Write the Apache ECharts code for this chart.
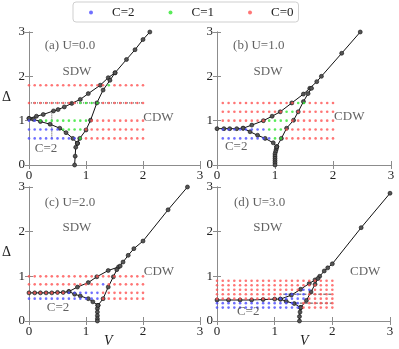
<!DOCTYPE html>
<html>
<head>
<meta charset="utf-8">
<script src="https://cdn.jsdelivr.net/npm/echarts@6/dist/echarts.min.js"></script>
<style>
html,body{margin:0;padding:0;background:#fff}
#main{width:399px;height:349px}
</style>
</head>
<body>
<div id="main"></div>
<script>
// V grid of the Chern number scan (same for a, c, d; b starts at 0.1)
var vGrid = [0,0.1,0.2,0.3,0.4,0.5,0.6,0.7,0.8,0.9,1.0,1.1,1.2,1.3,1.4,1.5,1.6,1.7,1.8,1.9,2.0];
var vGridB = [0.1,0.2,0.3,0.4,0.5,0.6,0.7,0.8,0.9,1.0,1.1,1.2,1.3,1.4,1.5,1.6,1.7,1.8,1.9,2.0];
var ticks = [0, 1, 2, 3];

// (a) U=0.0
var deltasA = [1.8, 1.4, 1.0, 0.8, 0.6];
var chernA = [
  [0,0,0,0,0,0,0,0,0,0,0,0,0,0,1,0,0,0,0,0,0],
  [0,0,0,0,0,0,0,0,0,1,1,1,1,0,0,0,0,0,0,0,0],
  [2,2,1,1,1,1,1,1,1,1,1,0,0,0,0,0,0,0,0,0,0],
  [2,2,2,2,2,2,1,1,1,1,0,0,0,0,0,0,0,0,0,0,0],
  [2,2,2,2,2,2,2,2,2,1,0,0,0,0,0,0,0,0,0,0,0]
];
var upperA = [[0,1.05],[0.13,1.1],[0.25,1.14],[0.43,1.22],[0.51,1.25],[0.62,1.31],[0.75,1.39],[0.9,1.48],[1.04,1.61],[1.25,1.8],[1.39,1.97],[1.51,2.08],[1.71,2.38],[1.86,2.6],[2.0,2.83],[2.12,3.0]];
var lowerA = [[0,1.05],[0.08,1.03],[0.2,0.98],[0.37,0.92],[0.54,0.83],[0.65,0.73],[0.77,0.6],[0.85,0.49]];
var stemA = [[0.85,0.49],[0.82,0.4],[0.81,0.2],[0.8,0]];
var rightA = [[0.85,0.49],[0.89,0.6],[1.0,0.79],[1.08,1.01],[1.19,1.4],[1.3,1.69],[1.42,1.91],[1.51,2.08]];

// (b) U=1.0
var deltasB = [1.4, 1.2, 1.0, 0.8, 0.6];
var chernB = [
  [0,0,0,0,0,0,0,0,0,0,0,0,0,1,1,0,0,0,0,0],
  [0,0,0,0,0,0,0,0,0,0,0,1,1,0,0,0,0,0,0,0],
  [0,0,0,0,0,0,0,0,1,1,1,1,0,0,0,0,0,0,0,0],
  [2,2,2,2,2,2,2,2,1,1,1,0,0,0,0,0,0,0,0,0],
  [2,2,2,2,2,2,2,2,2,1,1,0,0,0,0,0,0,0,0,0]
];
var upperB = [[0,0.82],[0.12,0.82],[0.22,0.82],[0.34,0.82],[0.45,0.83],[0.6,0.9],[0.8,1.0],[0.95,1.1],[1.09,1.2],[1.29,1.4],[1.49,1.6],[1.6,1.73],[1.72,1.88],[1.8,2.0],[2.15,2.52],[2.47,3.0]];
var lowerB = [[0.45,0.83],[0.57,0.75],[0.7,0.67],[0.83,0.6],[0.97,0.5],[1.03,0.41]];
var stemB = [[1.03,0.41],[1.02,0.35],[1.01,0.3],[1.0,0.25],[1.0,0.2],[1.0,0.15],[1.0,0.1],[1.0,0.05],[1.0,0]];
var rightB = [[1.03,0.41],[1.11,0.6],[1.2,0.83],[1.32,1.01],[1.4,1.2],[1.49,1.43],[1.57,1.61],[1.63,1.73]];

// (c) U=2.0
var deltasC = [1.0, 0.82, 0.63, 0.5];
var chernC = [
  [0,0,0,0,0,0,0,0,0,0,0,0,0,0,0,0,0,0,0,0,0],
  [0,0,0,0,0,0,0,0,0,0,0,0,0,2,0,0,0,0,0,0,0],
  [0,0,0,0,0,0,0,2,2,2,2,2,2,0,0,0,0,0,0,0,0],
  [2,2,2,2,2,2,2,2,2,2,2,2,2,0,0,0,0,0,0,0,0]
];
var upperC = [[0,0.63],[0.1,0.63],[0.2,0.63],[0.3,0.63],[0.4,0.63],[0.5,0.64],[0.6,0.64],[0.7,0.66],[0.85,0.76],[1.04,0.86],[1.19,0.99],[1.39,1.13],[1.57,1.21],[1.65,1.32],[1.74,1.47],[1.84,1.62],[2.0,1.79],[2.44,2.49],[2.78,3.0]];
var lowerC = [[0.7,0.66],[0.8,0.6],[0.9,0.56],[1.04,0.5],[1.12,0.43],[1.21,0.35]];
var stemC = [[1.21,0.35],[1.2,0.28],[1.2,0.2],[1.2,0.12],[1.2,0.05],[1.2,0]];
var rightC = [[1.21,0.35],[1.3,0.5],[1.39,0.76],[1.48,0.99],[1.54,1.15],[1.6,1.23]];

// (d) U=3.0
var deltasD = [0.9, 0.8, 0.7, 0.6, 0.5, 0.4, 0.3];
var chernD = [
  [0,0,0,0,0,0,0,0,0,0,0,0,0,0,0,0,0,0,0,0,0],
  [0,0,0,0,0,0,0,0,0,0,0,0,0,0,0,0,0,0,0,0,0],
  [0,0,0,0,0,0,0,0,0,0,0,0,0,0,0,2,2,0,0,0,0],
  [0,0,0,0,0,0,0,0,0,0,0,0,2,2,2,2,0,0,0,0,0],
  [0,0,0,0,0,0,0,0,0,0,0,2,2,2,2,2,0,0,0,0,0],
  [2,2,2,2,2,2,2,2,2,2,2,2,2,2,2,0,0,0,0,0,0],
  [2,2,2,2,2,2,2,2,2,2,2,2,2,2,2,0,0,0,0,0,0]
];
var upperD = [[0,0.47],[0.2,0.47],[0.4,0.47],[0.6,0.47],[0.8,0.48],[1.0,0.49],[1.1,0.49],[1.29,0.58],[1.45,0.71],[1.6,0.84],[1.7,0.92],[1.78,1.0],[1.86,1.12],[1.92,1.19],[2.0,1.28],[2.5,2.09],[3.0,2.86]];
var lowerD = [[1.1,0.49],[1.2,0.44],[1.34,0.39],[1.45,0.3]];
var stemD = [[1.45,0.3],[1.44,0.2],[1.43,0.1],[1.43,0]];
var rightD = [[1.45,0.3],[1.55,0.46],[1.63,0.65],[1.7,0.82],[1.75,0.95]];

// dotted guide lines
var guidesA = [[[0,1.4],[2,1.4]], [[0.4,0.6],[0.4,1.24]]];
var guidesD = [[[1.15,0.6],[2,0.6]], [[1.35,0.4],[2,0.4]]];

var serif = 'Liberation Serif';
var phaseColor = {2: '#4b4bff', 1: '#2fe62f', 0: '#ff5252'};
var phaseName = {2: 'C=2', 1: 'C=1', 0: 'C=0'};

var panels = [
  {grid: {left: 29, top: 32, width: 171, height: 133}, v: vGrid, deltas: deltasA, chern: chernA,
   lines: [upperA, lowerA, stemA, rightA], guides: guidesA, dash: 'dotted',
   notes: [['(a) U=0.0', 0.72, 2.7], ['SDW', 0.84, 2.1], ['CDW', 2.27, 1.08], ['C=2', 0.3, 0.38]]},
  {grid: {left: 217, top: 32, width: 174, height: 133}, v: vGridB, deltas: deltasB, chern: chernB,
   lines: [upperB, lowerB, stemB, rightB], guides: [], dash: 'dotted',
   notes: [['(b) U=1.0', 0.72, 2.7], ['SDW', 0.88, 2.1], ['CDW', 2.28, 1.09], ['C=2', 0.33, 0.41]]},
  {grid: {left: 29, top: 187, width: 171, height: 134}, v: vGrid, deltas: deltasC, chern: chernC,
   lines: [upperC, lowerC, stemC, rightC], guides: [], dash: 'dotted',
   notes: [['(c) U=2.0', 0.72, 2.66], ['SDW', 0.84, 2.1], ['CDW', 2.28, 1.1], ['C=2', 0.51, 0.31]]},
  {grid: {left: 217, top: 187, width: 173, height: 134}, v: vGrid, deltas: deltasD, chern: chernD,
   lines: [upperD, lowerD, stemD, rightD], guides: guidesD, dash: [3, 2],
   notes: [['(d) U=3.0', 0.74, 2.66], ['SDW', 0.88, 2.1], ['CDW', 2.57, 1.1], ['C=2', 0.54, 0.2]]}
];

var grids = [], xAxes = [], yAxes = [], series = [];
var frame = '#8c8c8c';

panels.forEach(function(p, g){
  grids.push(p.grid);
  var base = {
    gridIndex: g, type: 'value', min: 0, max: 3, interval: 1,
    axisLine: {show: true, lineStyle: {color: frame, width: 1}},
    axisTick: {show: true, inside: true, length: 4, lineStyle: {color: frame}},
    splitLine: {show: false}
  };
  var lbl = {show: true, color: '#222', fontFamily: serif, fontSize: 13, margin: 4,
    formatter: function(v){ return ticks.indexOf(v) >= 0 ? String(v) : ''; }};
  xAxes.push(Object.assign({}, base, {position: 'bottom', axisLabel: lbl}));
  xAxes.push(Object.assign({}, base, {position: 'top', axisLabel: {show: false}}));
  yAxes.push(Object.assign({}, base, {position: 'left', axisLabel: lbl}));
  yAxes.push(Object.assign({}, base, {position: 'right', axisLabel: {show: false}}));

  var xi = 2 * g, yi = 2 * g;

  // phase boundaries
  p.lines.forEach(function(seg){
    series.push({
      type: 'line', xAxisIndex: xi, yAxisIndex: yi, data: seg, z: 3,
      symbol: 'circle', symbolSize: 4, showSymbol: true,
      lineStyle: {color: '#111', width: 1},
      itemStyle: {color: '#555', borderColor: '#111', borderWidth: 0.6},
      silent: true, animation: false
    });
  });

  // dotted guides
  p.guides.forEach(function(seg){
    series.push({
      type: 'line', xAxisIndex: xi, yAxisIndex: yi, data: seg, z: 4,
      symbol: 'none', lineStyle: {color: '#222', width: 1, type: p.dash, opacity: 0.8},
      silent: true, animation: false
    });
  });

  // Chern number scan dots
  [2, 1, 0].forEach(function(c){
    var pts = [];
    p.chern.forEach(function(row, r){
      row.forEach(function(val, i){
        if (val === c) pts.push([p.v[i], p.deltas[r]]);
      });
    });
    series.push({
      name: phaseName[c], type: 'scatter', xAxisIndex: xi, yAxisIndex: yi, data: pts, z: 5,
      symbol: 'circle', symbolSize: 2.6, itemStyle: {color: phaseColor[c]},
      silent: true, animation: false
    });
  });

  // region annotations
  series.push({
    type: 'scatter', xAxisIndex: xi, yAxisIndex: yi, z: 6, symbolSize: 0,
    data: p.notes.map(function(n){ return {name: n[0], value: [n[1], n[2]]}; }),
    label: {show: true, position: 'inside', formatter: '{b}', color: '#3a3a3a',
      fontFamily: serif, fontSize: 13},
    silent: true, animation: false
  });
});

var chart = echarts.init(document.getElementById('main'));
chart.setOption({
  animation: false,
  backgroundColor: '#fff',
  legend: {
    data: ['C=2', 'C=1', 'C=0'], left: 73, top: 2,
    padding: [4, 5, 3, 16], itemGap: 34, itemWidth: 4, itemHeight: 4, icon: 'circle',
    borderColor: '#cfcfcf', borderWidth: 1, borderRadius: 3,
    textStyle: {fontFamily: serif, fontSize: 13, color: '#222', padding: [0, 0, 0, 14]}
  },
  grid: grids,
  xAxis: xAxes,
  yAxis: yAxes,
  series: series,
  graphic: [
    {type: 'text', left: 2, top: 90, style: {text: 'Δ', font: '14px "Liberation Serif"', fill: '#222'}},
    {type: 'text', left: 2, top: 245, style: {text: 'Δ', font: '14px "Liberation Serif"', fill: '#222'}},
    {type: 'text', left: 104, top: 334, style: {text: 'V', font: 'italic 14px "Liberation Serif"', fill: '#222'}},
    {type: 'text', left: 300, top: 334, style: {text: 'V', font: 'italic 14px "Liberation Serif"', fill: '#222'}}
  ]
});
</script>
</body>
</html>
